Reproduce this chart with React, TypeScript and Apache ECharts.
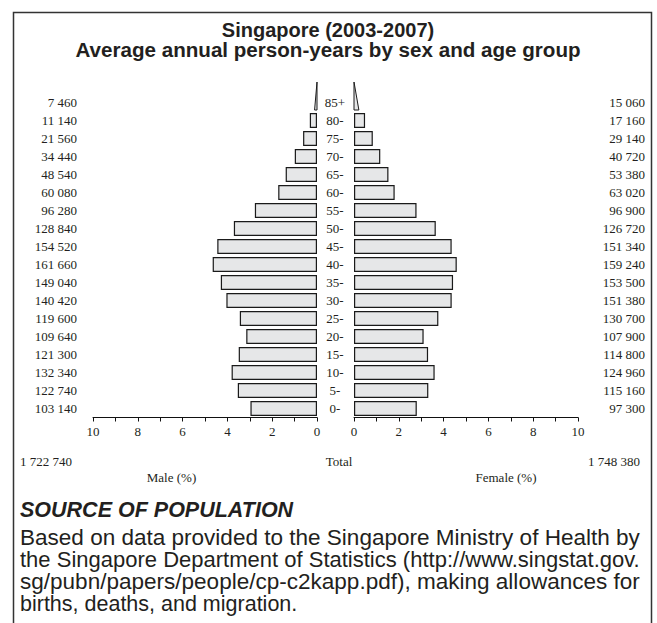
import React, { useEffect, useRef } from "react";
import * as echarts from "echarts";

const ages = ["0-", "5-", "10-", "15-", "20-", "25-", "30-", "35-", "40-", "45-", "50-", "55-", "60-", "65-", "70-", "75-", "80-", "85+"];
const maleCounts = [103140, 122740, 132340, 121300, 109640, 119600, 140420, 149040, 161660, 154520, 128840, 96280, 60080, 48540, 34440, 21560, 11140, 7460];
const femaleCounts = [97300, 115160, 124960, 114800, 107900, 130700, 151380, 153500, 159240, 151340, 126720, 96900, 63020, 53380, 40720, 29140, 17160, 15060];
const openAgeGroup = "85+";
const axisMax = 10;

const titleLines = ["Singapore (2003-2007)", "Average annual person-years by sex and age group"];
const sourceHeading = "SOURCE OF POPULATION";
const sourceLines = [
  "Based on data provided to the Singapore Ministry of Health by",
  "the Singapore Department of Statistics (http://www.singstat.gov.",
  "sg/pubn/papers/people/cp-c2kapp.pdf), making allowances for",
  "births, deaths, and migration.",
];

const SERIF = "'Liberation Serif', 'Times New Roman', serif";
const SANS = "'Liberation Sans', Arial, sans-serif";
const INK = "#231f20";
const BAR_FILL = "#e6e7e8";

const fmt = (n: number) => String(n).replace(/\B(?=(\d{3})+(?!\d))/g, " ");

export default function App() {
  const ref = useRef<HTMLDivElement>(null);
  useEffect(() => {
    if (!ref.current) return;
    const chart = echarts.init(ref.current, null, { renderer: "svg" });
    const maleTotal = maleCounts.reduce((a, b) => a + b, 0);
    const femaleTotal = femaleCounts.reduce((a, b) => a + b, 0);
    const grand = maleTotal + femaleTotal;
    const pct = (c: number) => (c / grand) * 100;
    const openIdx = ages.indexOf(openAgeGroup);
    const barData = (arr: number[]) => arr.map((c, i) => (i === openIdx ? "-" : +pct(c).toFixed(4)));

    const triangle = (params: any, api: any) => {
      const v = api.value(0);
      const idx = api.value(1);
      const base = api.coord([0, idx]);
      const end = api.coord([v * 0.5, idx]);
      const h = api.size([0, 1])[1];
      const bottom = base[1] + 7.5;
      const top = base[1] - h / 2 - 11.5;
      return {
        type: "polygon",
        shape: { points: [[base[0], top], [end[0], bottom], [base[0], bottom]] },
        style: { fill: BAR_FILL, stroke: "#1a1a1a", lineWidth: 1 },
      };
    };

    const serifLabel = { fontFamily: SERIF, fontSize: 13, color: INK };
    const xAxisBase = {
      type: "value",
      min: 0,
      max: axisMax,
      interval: 1,
      axisLine: { show: true, lineStyle: { color: "#111", width: 1 } },
      axisTick: { show: true, length: 4, lineStyle: { color: "#111", width: 1 } },
      axisLabel: { ...serifLabel, margin: 7, formatter: (v: number) => (v % 2 === 0 ? String(v) : "") },
      splitLine: { show: false },
    };
    const yAxisBase = {
      type: "category",
      data: ages,
      axisLine: { show: false },
      axisTick: { show: false },
      splitLine: { show: false },
    };

    const ctx = document.createElement("canvas").getContext("2d");
    const measure = (t: string, font: string) => {
      if (!ctx) return 0;
      ctx.font = font;
      return ctx.measureText(t).width;
    };

    const texts: any[] = [];
    const addText = (text: string, x: number, y: number, align: string, font: any, extra: any = {}) =>
      texts.push({
        type: "text",
        x,
        y,
        ...extra,
        style: { text, textAlign: align, textVerticalAlign: "middle", fill: INK, ...font },
      });
    addText(fmt(maleTotal), 20, 461, "left", { fontFamily: SERIF, fontSize: 13 });
    addText("Total", 339, 461, "center", { fontFamily: SERIF, fontSize: 13 });
    addText(fmt(femaleTotal), 640, 461, "right", { fontFamily: SERIF, fontSize: 13 });
    addText("Male (%)", 171.5, 477, "center", { fontFamily: SERIF, fontSize: 13 });
    addText("Female (%)", 506, 477, "center", { fontFamily: SERIF, fontSize: 13 });
    addText(sourceHeading, 20, 510, "left", { fontFamily: SANS, fontSize: 21.5, fontWeight: "bold", fontStyle: "italic", lineHeight: 22 });
    const bodySize = 21.5;
    const textWidth = 620;
    sourceLines.forEach((l, i) => {
      const last = i === sourceLines.length - 1;
      const w = measure(l, `${bodySize}px 'Liberation Sans'`);
      const sx = !last && w > 0 ? Math.min(1.08, textWidth / w) : 1;
      addText(l, 20, 538 + i * 22, "left", { fontFamily: SANS, fontSize: bodySize, lineHeight: 20 }, { scaleX: sx });
    });
    addText(titleLines[0], 328, 29.5, "center", { fontFamily: SANS, fontSize: 20, fontWeight: "bold", lineHeight: 18 });
    addText(titleLines[1], 328, 50.5, "center", { fontFamily: SANS, fontSize: 20, fontWeight: "bold", lineHeight: 18 }, { scaleX: 1.03 });

    chart.setOption({
      animation: false,
      backgroundColor: "#ffffff",
      grid: [
        { left: 93, top: 93.5, width: 224, height: 324 },
        { left: 354, top: 93.5, width: 224, height: 324 },
      ],
      xAxis: [
        { ...xAxisBase, gridIndex: 0, inverse: true },
        { ...xAxisBase, gridIndex: 1 },
      ],
      yAxis: [
        { ...yAxisBase, gridIndex: 0, position: "left", axisLabel: { ...serifLabel, margin: 16, formatter: (_v: string, i: number) => fmt(maleCounts[i]) } },
        { ...yAxisBase, gridIndex: 0, position: "right", axisLabel: { ...serifLabel, margin: 18, align: "center" } },
        { ...yAxisBase, gridIndex: 1, position: "right", axisLabel: { ...serifLabel, margin: 67, align: "right", formatter: (_v: string, i: number) => fmt(femaleCounts[i]) } },
      ],
      series: [
        {
          type: "bar", name: "Male", xAxisIndex: 0, yAxisIndex: 0, barWidth: 15,
          data: barData(maleCounts),
          itemStyle: { color: BAR_FILL, borderColor: "#1a1a1a", borderWidth: 1.2 },
        },
        {
          type: "bar", name: "Female", xAxisIndex: 1, yAxisIndex: 2, barWidth: 15,
          data: barData(femaleCounts),
          itemStyle: { color: BAR_FILL, borderColor: "#1a1a1a", borderWidth: 1.2 },
        },
        {
          type: "custom", name: "Male 85+", xAxisIndex: 0, yAxisIndex: 0, clip: false,
          encode: { x: 0, y: 1 }, renderItem: triangle,
          data: [[+pct(maleCounts[openIdx]).toFixed(4), openIdx]],
        },
        {
          type: "custom", name: "Female 85+", xAxisIndex: 1, yAxisIndex: 2, clip: false,
          encode: { x: 0, y: 1 }, renderItem: triangle,
          data: [[+pct(femaleCounts[openIdx]).toFixed(4), openIdx]],
        },
      ],
      graphic: [
        {
          type: "rect",
          shape: { x: 13.5, y: 12.5, width: 638, height: 700 },
          style: { fill: "none", stroke: "#333", lineWidth: 1.5 },
          silent: true,
        },
        ...texts,
      ],
    });
    return () => chart.dispose();
  }, []);
  return <div ref={ref} style={{ position: "fixed", left: 0, top: 0, width: 657, height: 623 }} />;
}
